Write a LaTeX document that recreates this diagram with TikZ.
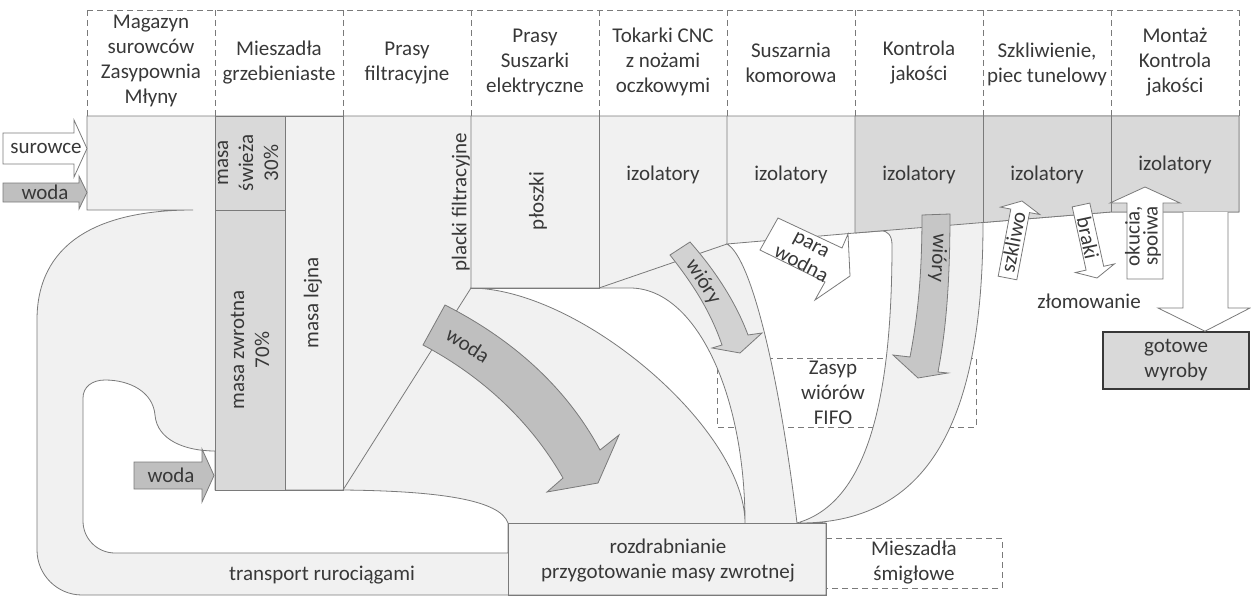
\documentclass[tikz,border=0pt]{standalone}
\usepackage{fontspec}
\setmainfont{Carlito}
\definecolor{lg}{HTML}{F1F1F1}
\definecolor{dg}{HTML}{D9D9D9}
\definecolor{ag}{HTML}{BFBFBF}
\definecolor{wg}{HTML}{D2D2D2}
\definecolor{kg}{HTML}{C6C6C6}
\definecolor{ln}{HTML}{7A7A7A}
\definecolor{tx}{HTML}{383838}
\tikzset{
  base/.style={draw=ln, line width=0.8pt},
  flow/.style={base, fill=lg},
  dashline/.style={draw=ln, line width=0.8pt, dash pattern=on 6pt off 4pt},
  lbl/.style={text=tx, font=\fontsize{21}{25}\selectfont, align=center, inner sep=0pt},
  whitearrow/.style={base, fill=white},
  greyarrow/.style={base, fill=ag},
}
\begin{document}
\begin{tikzpicture}[x=1pt,y=-1pt]
\useasboundingbox (0,0) rectangle (1251,597);

% header frame
\draw[dashline] (87,10) -- (1239,10);
\foreach \i in {0,...,9} \draw[dashline] ({87+128*\i},10) -- ({87+128*\i},116);

% dashed boxes (seen through the white gaps)
\draw[dashline] (717,358) rectangle (976,427);
\draw[dashline] (826,538) -- (1002,538) -- (1002,588) -- (826,588);

% main flow area with its white gaps
\path[flow, even odd rule]
  (87,116) -- (1239,116) -- (1239,212) -- (1111,212) -- (983,222.5)
  .. controls (983,410) and (935,523) .. (800,523) -- (826,523) -- (826,595) -- (82,595)
  .. controls (57.2,595) and (37,574.8) .. (37,550) -- (37,320)
  .. controls (37,245) and (95,210) .. (193,210) -- (87,210) -- cycle
  (215,451) .. controls (185,451) and (157,440) .. (155,415)
  .. controls (153,392) and (130,380) .. (105,380)
  .. controls (92,380) and (83,387) .. (83,398) -- (83,521)
  .. controls (83,538.7) and (97.3,553) .. (115,553) -- (508,553) -- (508,523)
  .. controls (500,500) and (440,491) .. (343,490) -- (215,490) -- cycle
  (470,288) .. controls (580,288) and (745,429) .. (745,523)
  .. controls (745,394) and (696,288) .. (630,288) -- cycle
  (727,244) -- (855,233) -- (881,231) .. controls (888,230.5) and (892,236) .. (892,245)
  .. controls (892,420) and (860,505) .. (797,523)
  .. controls (780,380) and (752,258) .. (727,244) -- cycle;

% mixing columns
\draw[base, fill=dg] (215,116) rectangle (285,210);
\draw[base, fill=dg] (215,210) rectangle (285,490);
\draw[base] (285,116) rectangle (343,490);
% presses, dryers, lathes, chamber dryer
\draw[base] (471,116) -- (471,288) -- (343,490);
\draw[base] (471,288) -- (599,288) -- (599,116);
\draw[base] (599,288) -- (727,244) -- (727,116);
% quality control, glazing, assembly
\draw[base, fill=dg] (855,116) -- (1239,116) -- (1239,212) -- (1111,212) -- (855,233) -- cycle;
\draw[base] (983,116) -- (983,222.5);
\draw[base] (1111,116) -- (1111,212);
% grinding box
\draw[base] (508,523) rectangle (826,595);

% inputs on the left
\draw[whitearrow] (3,133) -- (74,133) -- (74,120) -- (87,148.5) -- (74,177) -- (74,164) -- (3,164) -- cycle;
\draw[greyarrow] (3,183) -- (79,183) -- (79,176) -- (87,192.5) -- (79,209) -- (79,202) -- (3,202) -- cycle;
\draw[greyarrow] (134,462) -- (202,462) -- (202,449) -- (214,475.5) -- (202,502) -- (202,489) -- (134,489) -- cycle;

% water from the filter presses
\draw[greyarrow] (445,305) .. controls (510,338) and (565,385) .. (600,450) -- (619,435)
  -- (598,483) -- (547,492) -- (563,478) .. controls (530,420) and (480,375) .. (423,345) -- cycle;

% shavings from the lathes
\draw[base, fill=wg] (690,242) .. controls (713,268) and (735,300) .. (748,335) -- (762,333)
  -- (740,353) -- (712,348) -- (722,345) .. controls (710,310) and (692,283) .. (670,255) -- cycle;

% shavings from quality control
\draw[base, fill=kg] (922,215) -- (950,214) .. controls (950,290) and (945,335) .. (938,372)
  -- (948,373) -- (918,378) -- (893,355) -- (910,357) .. controls (917,320) and (922,280) .. (922,215) -- cycle;

% steam
\draw[whitearrow] (778,218) -- (842,248) -- (848,234) -- (850,276) -- (815,300) -- (825,282) -- (760,250) -- cycle;

% glaze, rejects, fittings
\draw[whitearrow] (998.2,276.2) -- (1010.8,209.1) -- (1000.5,207.1) -- (1022,201) -- (1039.8,214.5) -- (1029.5,212.6) -- (1016.8,279.8) -- cycle;
\draw[whitearrow] (1072.2,206.9) -- (1089.8,203.1) -- (1103.7,266.3) -- (1114.4,263.9) -- (1097,278) -- (1075.4,272.5) -- (1086.1,270.1) -- cycle;
\draw[whitearrow] (1127,279) -- (1127,203) -- (1110,203) -- (1145,187) -- (1180,203) -- (1163,203) -- (1163,279) -- cycle;

% finished goods
\node[draw=tx, line width=1.6pt, fill=dg, minimum width=146pt, minimum height=57pt, lbl] (gotowe) at (1176,360.5) {gotowe\\wyroby};
\draw[whitearrow] (1183,212) -- (1183,308) -- (1158,308) -- (gotowe.north -| 1205,0) -- (1250,308) -- (1228,308) -- (1228,212);

% header labels
\node[lbl] (h1) at (151,61) {Magazyn\\surowców\\Zasypownia\\Młyny};
\node[lbl] (h2) at (279,63) {Mieszadła\\grzebieniaste};
\node[lbl] (h3) at (407,63) {Prasy\\filtracyjne};
\node[lbl] (h4) at (535,62) {Prasy\\Suszarki\\elektryczne};
\node[lbl] (h5) at (663,62) {Tokarki CNC\\z nożami\\oczkowymi};
\node[lbl] (h6) at (791,63) {Suszarnia\\komorowa};
\node[lbl] (h7) at (919,63) {Kontrola\\jakości};
\node[lbl] (h8) at (1047,64) {Szkliwienie,\\piec tunelowy};
\node[lbl] (h9) at (1175,62) {Montaż\\Kontrola\\jakości};

% flow labels
\node[lbl] (surowce) at (46,148) {surowce};
\node[lbl] (woda1) at (45,192) {woda};
\node[lbl] (woda2) at (171,475) {woda};
\node[lbl, rotate=90] (swieza) at (248,163) {masa\\świeża\\30\%};
\node[lbl, rotate=90] (zwrotna) at (250,350) {masa zwrotna\\70\%};
\node[lbl, rotate=90] (lejna) at (313,303) {masa lejna};
\node[lbl, rotate=90] (placki) at (461,202) {placki filtracyjne};
\node[lbl, rotate=90] (ploszki) at (538,201) {płoszki};
\node[lbl] (iz5) at (663,175) {izolatory};
\node[lbl] (iz6) at (791,175) {izolatory};
\node[lbl] (iz7) at (919,175) {izolatory};
\node[lbl] (iz8) at (1047,175) {izolatory};
\node[lbl] (iz9) at (1175,165) {izolatory};
\node[lbl, rotate=-33] (wodabig) at (468,345) {woda};
\node[lbl, rotate=-57] (wiory1) at (703,282) {wióry};
\node[lbl, rotate=-93] (wiory2) at (938,258) {wióry};
\node[lbl, rotate=-28, font=\fontsize{21}{22}\selectfont] (para) at (806,255) {para\\wodna};
\node[lbl, rotate=79] (szkliwo) at (1013,242) {szkliwo};
\node[lbl, rotate=-78] (braki) at (1088,238) {braki};
\node[lbl, rotate=90, font=\fontsize{21}{18}\selectfont] (okucia) at (1143,236) {okucia,\\spoiwa};
\node[lbl] (zlom) at (1089,301) {złomowanie};
\node[lbl] (zasyp) at (833,393) {Zasyp\\wiórów\\FIFO};
\node[lbl] (rozdr) at (668,561) {rozdrabnianie\\przygotowanie masy zwrotnej};
\node[lbl] (smig) at (914,563) {Mieszadła\\śmigłowe};
\node[lbl] (transport) at (322,575) {transport rurociągami};
\end{tikzpicture}
\end{document}
